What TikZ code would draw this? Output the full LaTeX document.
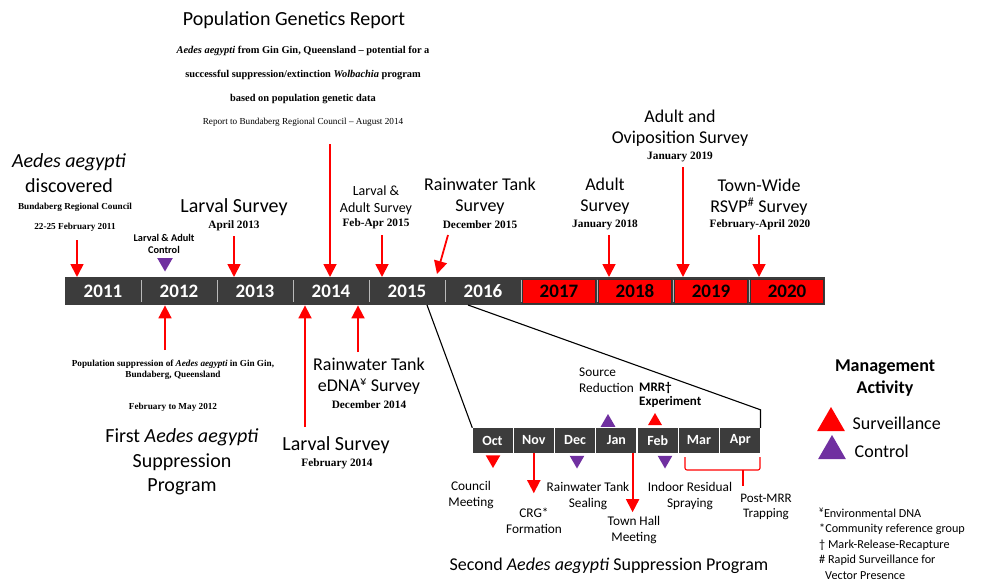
\documentclass[tikz,border=0pt]{standalone}
\usepackage{fontspec}
\setmainfont{Carlito}
\newfontfamily\tnr{Liberation Serif}
\usetikzlibrary{arrows.meta, positioning, shapes.geometric}
\definecolor{barGrey}{RGB}{60,60,60}
\definecolor{sepGrey}{RGB}{185,185,185}
\definecolor{ctrlPurple}{RGB}{112,48,160}
\definecolor{survRed}{RGB}{255,0,0}

\begin{document}
\begin{tikzpicture}[x=1pt, y=-1pt,
    big/.style={font=\fontsize{20}{24.5}\selectfont, align=center, inner sep=0pt},
    mid/.style={font=\fontsize{18}{21.5}\selectfont, align=center, inner sep=0pt},
    small/.style={font=\fontsize{14}{17}\selectfont, align=center, inner sep=0pt},
    sub/.style={font=\fontsize{13.3}{16}\selectfont, align=center, inner sep=0pt},
    date/.style={font=\tnr\bfseries\fontsize{11.3}{13}\selectfont, align=center, inner sep=0pt},
    smalldate/.style={font=\tnr\bfseries\fontsize{9.2}{11}\selectfont, align=center, inner sep=0pt},
    yearbox/.style={rectangle, minimum width=76, minimum height=28, inner sep=0pt, text=white, font=\bfseries\fontsize{19}{19}\selectfont},
    redyear/.style={yearbox, fill=survRed, draw=black!80, text=black, minimum width=73, minimum height=24},
    monthbox/.style={rectangle, fill=barGrey, minimum width=40, minimum height=25, inner sep=0pt, text=white, font=\bfseries\fontsize{14}{14}\selectfont},
    arrow/.style={survRed, line width=1.8pt, -{Triangle[width=13pt,length=13pt]}},
    surv/.style={regular polygon, regular polygon sides=3, fill=survRed, inner sep=0pt, minimum size=17pt},
    ctrl/.style={surv, fill=ctrlPurple},
    legtext/.style={font=\fontsize{18}{18}\selectfont, inner sep=0pt},
    zoomline/.style={black, line width=1.1pt}
]
    \useasboundingbox (0,0) rectangle (982,583);

    % main timeline
    \node[rectangle, fill=barGrey, minimum width=760, minimum height=28, inner sep=0pt, anchor=north west] (bar) at (65,277) {};
    \foreach \i in {1,...,9}
        \draw[sepGrey, line width=1pt] ({65+76*\i},280) -- ({65+76*\i},302);
    \foreach \yr [count=\i from 0] in {2011,...,2016}
        \node[yearbox] (y\yr) at ({103+76*\i},291) {\yr};
    \foreach \yr [count=\i from 6] in {2017,...,2020}
        \node[redyear] (y\yr) at ({103+76*\i},291) {\yr};

    % events above
    \node[font=\fontsize{20}{24}\selectfont, inner sep=0pt] (rep) at (294,20) {Population Genetics Report};
    \node[font=\tnr\bfseries\fontsize{10.4}{24}\selectfont, align=center, inner sep=0pt] (repbody) at (303,75)
        {\textit{Aedes aegypti} from Gin Gin, Queensland – potential for a\\
         successful suppression/extinction \textit{Wolbachia} program\\
         based on population genetic data};
    \node[font=\tnr\fontsize{9.2}{11}\selectfont, inner sep=0pt] (repto) at (303,122) {Report to Bundaberg Regional Council – August 2014};

    \node[big] (disc) at (69,173) {\textit{Aedes aegypti}\\discovered};
    \node[smalldate, font=\tnr\bfseries\fontsize{9.2}{20}\selectfont] (discd) at (75,217) {Bundaberg Regional Council\\22-25 February 2011};
    \node[font=\bfseries\fontsize{10.3}{12}\selectfont, align=center, inner sep=0pt] (ctrl12) at (164,244) {Larval \& Adult\\Control};
    \node[big] (larv13) at (234,207) {Larval Survey};
    \node[date] (larv13d) at (234,226) {April 2013};
    \node[small] (la15) at (376,200) {Larval \&\\Adult Survey};
    \node[date] (la15d) at (376,224) {Feb-Apr 2015};
    \node[mid] (rw15) at (480,196) {Rainwater Tank\\Survey};
    \node[date] (rw15d) at (480,225) {December 2015};
    \node[mid] (ad18) at (605,196) {Adult\\Survey};
    \node[date] (ad18d) at (605,225) {January 2018};
    \node[mid] (ov19) at (680,128) {Adult and\\Oviposition Survey};
    \node[date] (ov19d) at (680,157) {January 2019};
    \node[mid] (tw20) at (759,197) {Town-Wide\\RSVP\textsuperscript{\#} Survey};
    \node[date] (tw20d) at (760,225) {February-April 2020};

    \coordinate (aDisc) at (77,240);
    \coordinate (aLarv13) at (234,236);
    \coordinate (aRep) at (330,144);
    \coordinate (aLa15) at (382,235);
    \coordinate (aRw15) at (448,235);
    \coordinate (tRw15) at (437,274);
    \coordinate (aAd18) at (609,235);
    \coordinate (aOv19) at (683,167);
    \coordinate (aTw20) at (759,235);
    \foreach \a in {aDisc,aLarv13,aRep,aLa15,aAd18,aOv19,aTw20}
        \draw[arrow] (\a) -- (\a |- bar.north);
    \draw[arrow] (aRw15) -- (tRw15);
    \node[ctrl, minimum size=18pt, shape border rotate=180] (c12) at (165,262.5) {};

    % events below
    \coordinate (aPop12) at (165,350);
    \coordinate (aLarv14) at (305,427);
    \coordinate (aEdna14) at (358,352);
    \foreach \a in {aPop12,aLarv14,aEdna14}
        \draw[arrow] (\a) -- (\a |- bar.south);
    \node[smalldate, font=\tnr\bfseries\fontsize{9.2}{11}\selectfont] (pop12) at (173,370) {Population suppression of \textit{Aedes aegypti} in Gin Gin,\\Bundaberg, Queensland};
    \node[smalldate, font=\tnr\bfseries\fontsize{9.2}{11}\selectfont] (pop12d) at (173,407) {February to May 2012};
    \node[big] (first) at (182,462) {First \textit{Aedes aegypti}\\Suppression\\Program};
    \node[big] (larv14) at (336,445) {Larval Survey};
    \node[date] (larv14d) at (337,464) {February 2014};
    \node[mid] (edna14) at (369,376) {Rainwater Tank\\eDNA\textsuperscript{¥} Survey};
    \node[date] (edna14d) at (369,405) {December 2014};

    % second program
    \foreach \m [count=\i from 0] in {Oct,Nov,Dec,Jan,Feb,Mar,Apr}
        \node[monthbox] (m\m) at ({492.5+41.3*\i},440.5) {\m};
    \coordinate (zl) at (427,305);
    \coordinate (zr) at (468,305);
    \draw[zoomline] (zl) -- (mOct.north west);
    \draw[zoomline] (zr) -- ([yshift=18pt]mApr.north east) -- (mApr.north east);

    \node[surv, shape border rotate=180] (sOct) at (493,459.5) {};
    \node[sub] (council) at (471,495) {Council\\Meeting};
    \draw[arrow] (mNov.south) -- ++(0,40);
    \node[sub] (crg) at (534,521) {CRG*\\Formation};
    \node[ctrl, shape border rotate=180] (cDec) at (577,460) {};
    \node[sub] (rwseal) at (588,496) {Rainwater Tank\\Sealing};
    \node[ctrl] (cJan) at (608,422.5) {};
    \node[sub, align=left, anchor=west] (srcred) at (579,380) {Source\\Reduction};
    \draw[arrow] ([xshift=-4pt]mJan.south east) -- ++(0,59);
    \node[sub] (townhall) at (634,530) {Town Hall\\Meeting};
    \node[surv, minimum size=16pt] (sFeb) at (655,421) {};
    \node[sub, font=\bfseries\fontsize{13}{14}\selectfont, align=left, anchor=west] (mrr) at (639,395) {MRR†\\Experiment};
    \node[ctrl, shape border rotate=180] (cFeb) at (665,460) {};
    \node[sub] (irs) at (690,496) {Indoor Residual\\Spraying};
    \draw[survRed, line width=1.1pt, rounded corners=2pt] (685,457) -- (685,470) -- (760,470) -- (760,457);
    \draw[survRed, line width=1.1pt] (743,470) -- (743,486);
    \node[sub, font=\fontsize{13}{15.5}\selectfont] (postmrr) at (766,507) {Post-MRR\\Trapping};
    \node[font=\fontsize{18}{22}\selectfont, inner sep=0pt] (title2) at (609,566) {Second \textit{Aedes aegypti} Suppression Program};

    % legend
    \node[font=\bfseries\fontsize{18}{21.5}\selectfont, align=center, inner sep=0pt] (legtitle) at (885,378) {Management\\Activity};
    \node[surv, minimum size=32pt] (legS) at (831,423) {};
    \node[legtext, right=12pt of legS] (legStxt) {Surveillance};
    \node[ctrl, minimum size=32pt] (legC) at (832,451) {};
    \node[legtext, right=13pt of legC] (legCtxt) {Control};
    \node[font=\fontsize{12.2}{15.5}\selectfont, align=left, anchor=north west, inner sep=0pt] (notes) at (819,508)
        {\textsuperscript{¥}Environmental DNA\\*Community reference group\\† Mark-Release-Recapture\\\# Rapid Surveillance for\\\hspace*{6pt}Vector Presence};
\end{tikzpicture}
\end{document}
